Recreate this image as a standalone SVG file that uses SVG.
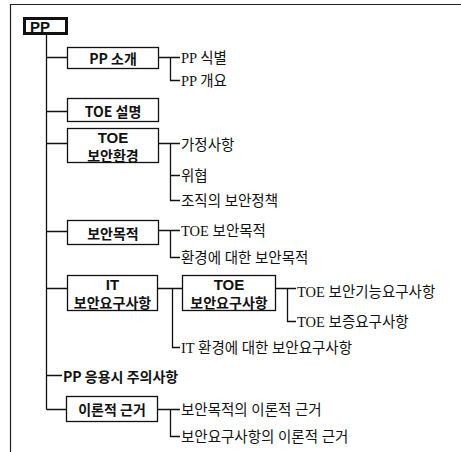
<svg xmlns="http://www.w3.org/2000/svg" width="461" height="452" viewBox="0 0 461 452">
<style>
.bg{fill:#fff}
.box{fill:#fff;stroke:#111;stroke-width:1.3}
.root{fill:#fff;stroke:#111;stroke-width:3}
.ln{fill:none;stroke:#111;stroke-width:1.3}
.frame{fill:none;stroke:#222;stroke-width:1.2}
.bt{font-family:"Noto Sans CJK KR","Liberation Sans",sans-serif;font-size:14px;font-weight:bold;fill:#111;text-anchor:middle;dominant-baseline:central}
.lt{font-family:"Liberation Sans",sans-serif;font-size:15px;font-weight:bold;fill:#111;text-anchor:middle;dominant-baseline:central}
.st{font-family:"Liberation Serif","Noto Sans CJK KR",serif;font-size:14.5px;fill:#111;dominant-baseline:central}
.sl{font-family:"Noto Sans CJK KR","Liberation Sans",sans-serif;font-size:14px;font-weight:bold;fill:#111;dominant-baseline:central}
</style>
<rect class="bg" x="0" y="0" width="461" height="452"/>
<path class="frame" d="M10.5,452 V4.5 H461"/>
<g id="connectors">
<path class="ln" d="M46.5,34 V409.5 M46.5,57.5 H67 M46.5,111.5 H67 M46.5,143.5 H67 M46.5,231.5 H67 M46.5,288.5 H67 M46.5,375.5 H62 M46.5,409.5 H66"/>
<path class="ln" d="M159,57.5 H180 M170.5,57.5 V80.5 H180"/>
<path class="ln" d="M159,143.5 H180 M170.5,143.5 V200.5 H180 M170.5,175.5 H180"/>
<path class="ln" d="M159,230.5 H180 M170.5,230.5 V257.5 H180"/>
<path class="ln" d="M158,288.5 H182 M172.5,288.5 V347.5 H180"/>
<path class="ln" d="M276,288.5 H296 M287.5,288.5 V321.5 H296"/>
<path class="ln" d="M158,409.5 H180 M170.5,409.5 V436.5 H180"/>
</g>
<g id="n-pp"><rect class="root" x="24.5" y="18.5" width="42" height="15"/><text class="lt" x="40" y="26">PP</text></g>
<g id="n-intro"><rect class="box" x="67.5" y="47.5" width="91" height="21"/><text class="bt" x="113" y="57.5">PP 소개</text></g>
<g id="n-intro-1"><text class="st" x="181" y="57.5">PP 식별</text></g>
<g id="n-intro-2"><text class="st" x="181" y="80.5">PP 개요</text></g>
<g id="n-toedesc"><rect class="box" x="67.5" y="98.5" width="91" height="23"/><text class="bt" x="113" y="110.5">TOE 설명</text></g>
<g id="n-env"><rect class="box" x="67.5" y="128.5" width="91" height="34"/><text class="lt" x="113" y="137">TOE</text><text class="bt" x="113" y="155">보안환경</text></g>
<g id="n-env-1"><text class="st" x="181" y="144.5">가정사항</text></g>
<g id="n-env-2"><text class="st" x="181" y="176">위협</text></g>
<g id="n-env-3"><text class="st" x="181" y="201">조직의 보안정책</text></g>
<g id="n-obj"><rect class="box" x="67.5" y="220.5" width="91" height="24"/><text class="bt" x="113" y="232.5">보안목적</text></g>
<g id="n-obj-1"><text class="st" x="181" y="231">TOE 보안목적</text></g>
<g id="n-obj-2"><text class="st" x="181" y="258">환경에 대한 보안목적</text></g>
<g id="n-itreq"><rect class="box" x="67.5" y="275.5" width="90" height="35"/><text class="lt" x="112.5" y="284">IT</text><text class="bt" x="112.5" y="302">보안요구사항</text></g>
<g id="n-toereq"><rect class="box" x="182.5" y="275.5" width="93" height="35"/><text class="lt" x="229" y="284">TOE</text><text class="bt" x="229" y="302">보안요구사항</text></g>
<g id="n-toereq-1"><text class="st" x="297" y="292">TOE 보안기능요구사항</text></g>
<g id="n-toereq-2"><text class="st" x="297" y="322">TOE 보증요구사항</text></g>
<g id="n-itenv"><text class="st" x="181" y="348">IT 환경에 대한 보안요구사항</text></g>
<g id="n-note"><text class="sl" x="63" y="376">PP 응용시 주의사항</text></g>
<g id="n-rat"><rect class="box" x="66.5" y="396.5" width="91" height="25"/><text class="bt" x="112" y="409">이론적 근거</text></g>
<g id="n-rat-1"><text class="st" x="181" y="410">보안목적의 이론적 근거</text></g>
<g id="n-rat-2"><text class="st" x="181" y="437">보안요구사항의 이론적 근거</text></g>
</svg>
